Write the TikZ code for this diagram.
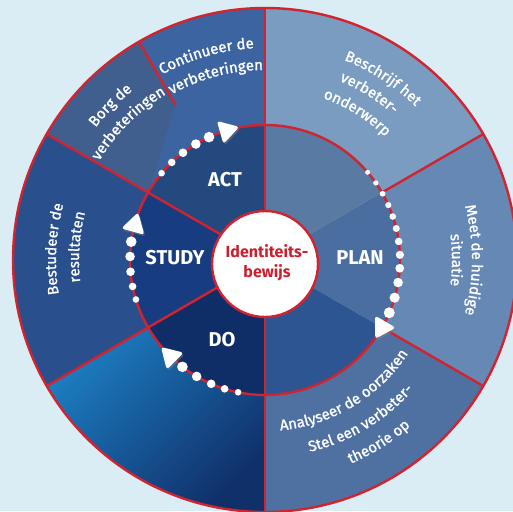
\documentclass[tikz,border=0pt]{standalone}
\usepackage{fontspec}
\setmainfont{Fira Sans}
\newfontfamily\segfam{Fira Sans}[FakeBold=1.2]
\usetikzlibrary{decorations.text,shadows}
\definecolor{bgc}{HTML}{DBEDF4}
\definecolor{rl}{HTML}{D12330}
\definecolor{cBes}{HTML}{7A9CC1}
\definecolor{cMeet}{HTML}{6688B4}
\definecolor{cAna}{HTML}{4F71A1}
\definecolor{cGL}{HTML}{1C7DC1}
\definecolor{cGD}{HTML}{10306A}
\definecolor{cStu}{HTML}{294F8C}
\definecolor{cCon}{HTML}{3B64A0}
\definecolor{cBorg}{HTML}{405F8E}
\definecolor{iAct}{HTML}{24497F}
\definecolor{iStudy}{HTML}{173D80}
\definecolor{iDo}{HTML}{0F2D67}
\definecolor{iPa}{HTML}{587AA3}
\definecolor{iPb}{HTML}{4A6E9F}
\definecolor{iPc}{HTML}{2C5592}
\definecolor{idred}{HTML}{C8202E}
\newcommand\segfont{\segfam\fontsize{15}{15}\selectfont}
\newcommand\arctext[4]{\path[decorate,decoration={text along path,text align=center,text color=white,text={|\segfont|#4}}] (#2+#3:#1pt) arc[start angle=#2+#3,end angle=#2-#3,radius=#1pt];}
\newcommand\sectorfill[5]{\fill[#5] (#1:#3pt) arc[start angle=#1,end angle=#2,radius=#3pt] -- (#2:#4pt) arc[start angle=#2,end angle=#1,radius=#4pt] -- cycle;}
\newcommand\piefill[4]{\fill[#4] (0,0) -- (#1:#3pt) arc[start angle=#1,end angle=#2,radius=#3pt] -- cycle;}
\begin{document}
\begin{tikzpicture}[x=1pt,y=1pt,
  redline/.style={draw=rl,line width=2.4pt},
  dotc/.style={fill=white},
  tipshape/.style={fill=white,rounded corners=3pt,drop shadow={shadow xshift=1.2pt,shadow yshift=-1.8pt,opacity=.45}},
  lab/.style={text=white,font=\bfseries\fontsize{20}{20}\selectfont}]
\useasboundingbox (-265,-251) rectangle (248,260);
\clip (-265,-251) rectangle (248,260);
\fill[bgc] (-265,-251) rectangle (248,260);
% outer ring
\sectorfill{30}{90}{135}{252}{cBes}
\sectorfill{-30}{30}{135}{252}{cMeet}
\sectorfill{-90}{-30}{135}{252}{cAna}
\sectorfill{210}{270}{135}{252}{top color=cGL,bottom color=cGD,shading angle=45}
\sectorfill{150}{210}{135}{252}{cStu}
\sectorfill{90}{150}{135}{252}{cCon}
\fill[cBorg] (120:252pt) arc[start angle=120,end angle=150,radius=252pt] -- (150:135pt) -- (120:179pt) -- cycle;
% inner ring
\piefill{90}{150}{135}{iAct}
\piefill{150}{210}{135}{iStudy}
\piefill{210}{270}{135}{iDo}
\piefill{30}{90}{135}{iPa}
\piefill{-30}{30}{135}{iPb}
\piefill{-90}{-30}{135}{iPc}
% red lines
\draw[redline] (0,0) circle[radius=135pt];
\draw[redline] (0,0) circle[radius=252pt];
\foreach \a in {90,150,210,270} \draw[redline] (\a:40pt) -- (\a:252pt);
\foreach \a in {30,-30} \draw[redline] (\a:135pt) -- (\a:252pt);
\draw[redline] (120:179pt) -- (120:252pt);
% dots
\foreach \a/\r in {140/3.3,133.7/3.8,127.4/4.3,120.8/4.8,114.5/5.3,
  197/3.3,191.3/3.8,185/4.3,178.5/4.8,172.2/5.3,
  258.5/3.3,252.6/3.8,246.5/4.3,239.6/4.8,232.3/5.3,
  40.5/2.5,34.8/2.7,29.4/2.9,24/3.1,18.8/3.3,13.5/3.5,7.9/3.8,2.2/4.1,-3.5/4.4,-9.6/4.8,-16.2/5.1,-23/5.5}
  \fill[dotc] (\a:135pt) circle[radius=\r pt];
% arrow tips
\foreach \a in {106,164.5,225,-30.5}
  \fill[tipshape,shift={(\a:135pt)},rotate=\a-90] (12,0) -- (-8,12) -- (-8,-12) -- cycle;
% centre
\node[circle,fill=white,draw=rl,line width=2.4pt,minimum size=106pt,inner sep=0pt] (core) at (0,-4) {};
\node[text=idred,font=\bfseries\fontsize{16}{20}\selectfont,align=center] (coretext) at (2,-3) {Identiteits-\\bewijs};
\node[lab] (act) at (-40,80) {ACT};
\node[lab] (study) at (-90,2) {STUDY};
\node[lab] (do) at (-43,-80) {DO};
\node[lab] (plan) at (95,2) {PLAN};
% segment texts
\arctext{212}{106}{40}{Continueer de}
\arctext{190}{105}{40}{verbeteringen}
\arctext{215}{135}{40}{Borg de}
\arctext{193}{135}{40}{verbeteringen}
\arctext{215}{57}{40}{Beschrijf het}
\arctext{194}{58}{40}{verbeter-}
\arctext{172}{58}{40}{onderwerp}
\arctext{209}{177}{40}{Bestudeer de}
\arctext{186}{176}{40}{resultaten}
\arctext{207}{0}{40}{Meet de huidige}
\arctext{187}{0}{40}{situatie}
\arctext{171}{-59}{-40}{Analyseer de oorzaken}
\arctext{197}{-59}{-40}{Stel een verbeter-}
\arctext{221}{-58}{-40}{theorie op}
\end{tikzpicture}
\end{document}
